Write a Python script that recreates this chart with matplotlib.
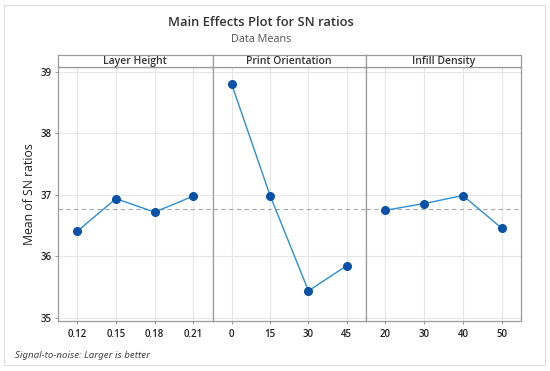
import numpy as np
import matplotlib.pyplot as plt

plt.rcParams['font.family'] = ['Open Sans', 'DejaVu Sans']

factors = ['Layer Height', 'Print Orientation', 'Infill Density']
levels = [['0.12', '0.15', '0.18', '0.21'],
          ['0', '15', '30', '45'],
          ['20', '30', '40', '50']]
layer_height_sn = [36.41, 36.94, 36.72, 36.98]
orientation_sn = [38.80, 36.99, 35.44, 35.85]
infill_sn = [36.75, 36.86, 36.99, 36.46]
series = [layer_height_sn, orientation_sn, infill_sn]
grand_mean = np.mean(layer_height_sn + orientation_sn + infill_sn)

W, H = 550, 371
fig = plt.figure(figsize=(W / 100, H / 100), dpi=100)

# outer frame
fig.add_artist(plt.Rectangle((4 / W, 6 / H), 541 / W, 360 / H, transform=fig.transFigure,
                             fill=False, edgecolor='#dddddd', lw=0.8))

edges = [58, 212.5, 366, 521]
bottom, top, strip_top = 50, 304, 316
frame_col = '#9a9a9a'

for i, name in enumerate(factors):
    x0, x1 = edges[i], edges[i + 1]
    ax = fig.add_axes([x0 / W, bottom / H, (x1 - x0) / W, (top - bottom) / H])
    pos = np.arange(len(levels[i]))
    ax.axhline(grand_mean, color='#a8a8a8', ls=(0, (4, 3)), lw=0.8, zorder=1)
    ax.plot(pos, series[i], color='#2b8fd8', lw=1.0, zorder=2)
    ax.plot(pos, series[i], 'o', color='#0a52a8', ms=5.5, zorder=3)
    ax.set_xlim(-0.5, 3.5)
    ax.set_ylim(34.95, 39.08)
    ax.set_xticks(pos)
    ax.set_xticklabels(levels[i])
    ax.set_yticks([35, 36, 37, 38, 39])
    ax.grid(True, color='#e6e6e6', lw=0.8)
    ax.set_axisbelow(True)
    for s in ax.spines.values():
        s.set_color(frame_col)
        s.set_linewidth(0.9)
    ax.tick_params(axis='x', length=2.5, color=frame_col, labelsize=7, labelcolor='#222222', pad=3)
    ax.tick_params(axis='y', length=2.5, color=frame_col, labelsize=7, labelcolor='#222222', pad=2)
    for lab in ax.get_xticklabels() + ax.get_yticklabels():
        lab.set_fontweight('semibold')
    if i == 0:
        ax.set_ylabel('Mean of SN ratios', fontsize=8.8, color='#222222', labelpad=3)
    else:
        ax.tick_params(axis='y', left=False, labelleft=False)

    sax = fig.add_axes([x0 / W, top / H, (x1 - x0) / W, (strip_top - top) / H])
    sax.set_xticks([])
    sax.set_yticks([])
    for s in sax.spines.values():
        s.set_color(frame_col)
        s.set_linewidth(0.9)
    sax.text(0.5, 0.45, name, ha='center', va='center', fontsize=7.5,
             fontweight='semibold', color='#333333', transform=sax.transAxes)

fig.text(261 / W, 1 - 23 / H, 'Main Effects Plot for SN ratios', ha='center', va='center',
         fontsize=9.3, fontweight='semibold', color='#333333')
fig.text(261 / W, 1 - 39 / H, 'Data Means', ha='center', va='center',
         fontsize=7.8, color='#555555')
fig.text(15 / W, 1 - 355 / H, 'Signal-to-noise: Larger is better', ha='left', va='center',
         fontsize=7, style='italic', color='#444444', family=['Noto Sans', 'DejaVu Sans'])

fig.savefig('out.png', dpi=100)
